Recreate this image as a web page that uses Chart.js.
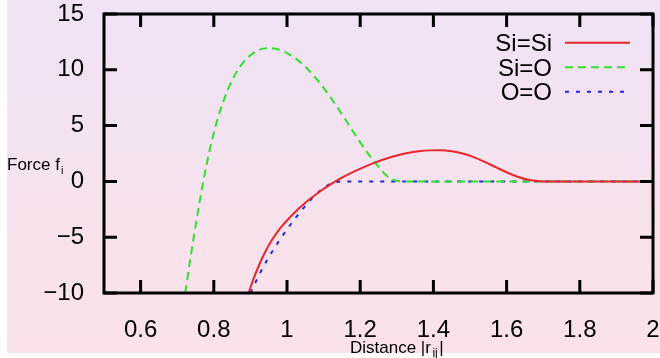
<!DOCTYPE html>
<html>
<head>
<meta charset="utf-8">
<script src="https://cdn.jsdelivr.net/npm/chart.js@4.4.1/dist/chart.umd.min.js"></script>
<style>
  body{margin:0;background:#fff;}
  #c{display:block;}
</style>
</head>
<body>
<canvas id="c" width="660" height="358"></canvas>
<script>
// tick labels
var xTicks = [0.6, 0.8, 1, 1.2, 1.4, 1.6, 1.8, 2];
var yTicks = [-10, -5, 0, 5, 10, 15];

// Si=Si (red, solid)
var siSiX = [0.895, 0.91, 0.925, 0.94, 0.955, 0.97, 0.985, 1.00, 1.03, 1.06, 1.09, 1.12, 1.15, 1.18, 1.21, 1.24, 1.27, 1.30, 1.33, 1.36, 1.39, 1.42, 1.45, 1.48, 1.51, 1.54, 1.57, 1.60, 1.63, 1.66, 1.69, 1.71, 2.0];
var siSiY = [-10, -8.6, -7.4, -6.35, -5.45, -4.7, -4.05, -3.5, -2.5, -1.65, -0.9, -0.25, 0.33, 0.83, 1.28, 1.68, 2.03, 2.32, 2.55, 2.7, 2.78, 2.79, 2.7, 2.5, 2.18, 1.75, 1.28, 0.82, 0.42, 0.14, 0.02, 0, 0];

// Si=O (green, dashed)
var siOX = [0.722, 0.73, 0.74, 0.75, 0.76, 0.77, 0.78, 0.79, 0.80, 0.81, 0.82, 0.83, 0.84, 0.85, 0.86, 0.87, 0.88, 0.89, 0.90, 0.92, 0.94, 0.96, 0.98, 1.00, 1.02, 1.04, 1.06, 1.08, 1.10, 1.12, 1.14, 1.16, 1.18, 1.20, 1.22, 1.24, 1.26, 1.28, 1.30, 1.32, 2.0];
var siOY = [-10, -8.22, -6.07, -4.02, -2.07, -0.24, 1.46, 2.99, 4.34, 5.54, 6.59, 7.52, 8.34, 9.06, 9.68, 10.21, 10.65, 11.01, 11.29, 11.72, 11.92, 11.94, 11.8, 11.5, 11.1, 10.58, 9.94, 9.2, 8.38, 7.48, 6.52, 5.52, 4.5, 3.5, 2.56, 1.72, 0.92, 0.32, 0.06, 0, 0];

// O=O (blue, short dashes)
var oOX = [0.90, 0.925, 0.95, 0.975, 1.00, 1.025, 1.05, 1.075, 1.10, 1.12, 1.14, 1.16, 2.0];
var oOY = [-10, -8.3, -6.8, -5.5, -4.3, -3.2, -2.2, -1.3, -0.6, -0.2, -0.03, 0, 0];

var seriesNames = ['Si=Si', 'Si=O', 'O=O'];
var seriesColors = ['#e8262b', '#33dd33', '#2424dd'];
var seriesDash = [[], [8, 5], [4, 7]];

function pts(xs, ys) {
  return xs.map(function (x, i) { return {x: x, y: ys[i]}; });
}
function fmt(v) {
  return v < 0 ? '\u2212' + Math.abs(v) : String(v);
}

var fam = '"Liberation Sans", Arial, Helvetica, sans-serif';

var framePlugin = {
  id: 'frame',
  beforeDraw: function (chart) {
    var ctx = chart.ctx;
    var g = ctx.createLinearGradient(0, 0, 0, 353);
    g.addColorStop(0, '#efe3f5');
    g.addColorStop(1, '#fbe2e8');
    ctx.save();
    ctx.fillStyle = g;
    ctx.fillRect(7, 0, 653, 353);
    ctx.restore();
  },
  afterDraw: function (chart) {
    var ctx = chart.ctx, a = chart.chartArea;
    var xs = chart.scales.x, ys = chart.scales.y;
    ctx.save();
    ctx.strokeStyle = '#000';
    ctx.lineWidth = 3;
    ctx.beginPath();
    xTicks.forEach(function (v) {
      var p = xs.getPixelForValue(v);
      ctx.moveTo(p, a.bottom); ctx.lineTo(p, a.bottom - 13);
      ctx.moveTo(p, a.top); ctx.lineTo(p, a.top + 13);
    });
    yTicks.forEach(function (v) {
      var p = ys.getPixelForValue(v);
      ctx.moveTo(a.left, p); ctx.lineTo(a.left + 13, p);
      ctx.moveTo(a.right, p); ctx.lineTo(a.right - 13, p);
    });
    ctx.stroke();
    ctx.strokeRect(a.left, a.top, a.right - a.left, a.bottom - a.top);

    // axis titles
    ctx.fillStyle = '#000';
    ctx.textBaseline = 'alphabetic';
    ctx.textAlign = 'left';
    ctx.font = '17px ' + fam;
    var t = 'Force f';
    ctx.fillText(t, 7, 170);
    var w = ctx.measureText(t).width;
    ctx.font = '11px ' + fam;
    ctx.fillText('i', 7 + w + 1, 174);

    ctx.font = '17px ' + fam;
    t = 'Distance |r';
    var x0 = 350;
    ctx.fillText(t, x0, 353);
    x0 += ctx.measureText(t).width + 1.5;
    ctx.font = '12px ' + fam;
    ctx.fillText('ij', x0, 357);
    x0 += ctx.measureText('ij').width + 1.5;
    ctx.font = '17px ' + fam;
    ctx.fillText('|', x0, 353);

    // legend
    ctx.font = '24px ' + fam;
    ctx.textAlign = 'right';
    var rows = [42.7, 67.3, 91.7];
    for (var i = 0; i < seriesNames.length; i++) {
      ctx.fillStyle = '#000';
      ctx.fillText(seriesNames[i], 552, rows[i] + 8.6);
      ctx.strokeStyle = seriesColors[i];
      ctx.lineWidth = 2;
      ctx.setLineDash(seriesDash[i]);
      ctx.beginPath();
      ctx.moveTo(565, rows[i]);
      ctx.lineTo(630, rows[i]);
      ctx.stroke();
    }
    ctx.restore();
  }
};

function makeSet(i, xs, ys) {
  return {
    label: seriesNames[i],
    data: pts(xs, ys),
    borderColor: seriesColors[i],
    borderWidth: 2,
    borderDash: seriesDash[i],
    pointRadius: 0,
    fill: false,
    cubicInterpolationMode: 'monotone'
  };
}

new Chart(document.getElementById('c'), {
  type: 'line',
  data: {
    datasets: [
      makeSet(0, siSiX, siSiY),
      makeSet(1, siOX, siOY),
      makeSet(2, oOX, oOY)
    ]
  },
  options: {
    responsive: false,
    animation: false,
    layout: {padding: {top: 14, right: 7, left: 0, bottom: 0}},
    plugins: {legend: {display: false}, tooltip: {enabled: false}},
    scales: {
      x: {
        type: 'linear', min: 0.5, max: 2,
        grid: {display: false}, border: {display: false},
        ticks: {font: {size: 24, family: fam}, color: '#000', padding: 15, maxRotation: 0,
          callback: function (v) { return fmt(v); }},
        afterBuildTicks: function (s) { s.ticks = xTicks.map(function (v) { return {value: v}; }); },
        afterFit: function (s) { s.height = 65; s.paddingLeft = 0; s.paddingRight = 0; }
      },
      y: {
        type: 'linear', min: -10, max: 15,
        grid: {display: false}, border: {display: false},
        ticks: {font: {size: 24, family: fam}, color: '#000', padding: 12,
          callback: function (v) { return fmt(v); }},
        afterBuildTicks: function (s) { s.ticks = yTicks.map(function (v) { return {value: v}; }); },
        afterFit: function (s) { s.width = 104; s.paddingTop = 0; s.paddingBottom = 0; }
      }
    }
  },
  plugins: [framePlugin]
});
</script>
</body>
</html>
